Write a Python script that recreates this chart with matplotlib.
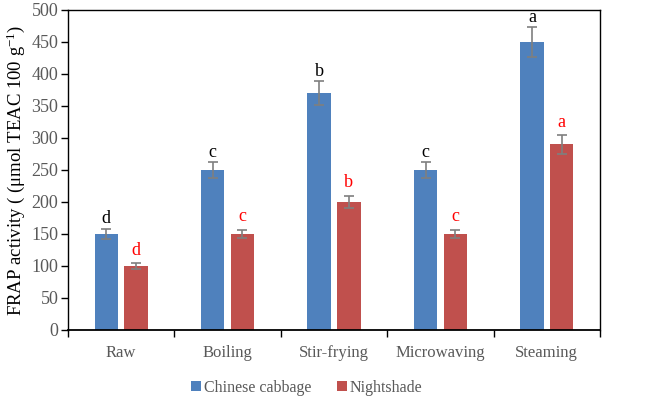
import matplotlib
matplotlib.use("Agg")
import matplotlib.pyplot as plt
import numpy as np

categories = ["Raw", "Boiling", "Stir-frying", "Microwaving", "Steaming"]
cabbage = [150, 250, 370, 250, 450]
cabbage_err = [8, 12, 19, 12, 23]
cabbage_letters = ["d", "c", "b", "c", "a"]
nightshade = [100, 150, 200, 150, 290]
nightshade_err = [5, 7, 10, 7, 15]
nightshade_letters = ["d", "c", "b", "c", "a"]
yticks = [0, 50, 100, 150, 200, 250, 300, 350, 400, 450, 500]

plt.rcParams['font.family'] = ['Liberation Serif', 'DejaVu Serif']
plt.rcParams['mathtext.fontset'] = 'custom'
plt.rcParams['mathtext.rm'] = 'Liberation Serif'
plt.rcParams['mathtext.it'] = 'Liberation Serif:italic'

fig = plt.figure(figsize=(6.69, 4.01), dpi=100)
ax = fig.add_axes([68/669, 1-330/401, (600-68)/669, (330-10)/401])

blue = "#4f81bd"
red = "#c0504d"
gray = "#595959"
x = np.arange(len(categories))
w = 0.22
off = 0.14
eb = dict(ecolor="#7f7f7f", elinewidth=1.2, capsize=3.5, capthick=1.2)
ax.bar(x - off, cabbage, w, color=blue, yerr=cabbage_err, error_kw=eb, label="Chinese cabbage", zorder=2)
ax.bar(x + off, nightshade, w, color=red, yerr=nightshade_err, error_kw=eb, label="Nightshade", zorder=2)

for i in range(len(categories)):
    ax.annotate(cabbage_letters[i], (x[i] - off, cabbage[i] + cabbage_err[i]), xytext=(0, 1),
                textcoords="offset points", ha="center", va="bottom", fontsize=13, color="black")
    ax.annotate(nightshade_letters[i], (x[i] + off, nightshade[i] + nightshade_err[i]), xytext=(0, 3),
                textcoords="offset points", ha="center", va="bottom", fontsize=13, color="red")

ax.set_xlim(-0.5, len(categories) - 0.5)
ax.set_ylim(0, 500)
ax.set_yticks(yticks)
ax.set_xticks(x)
ax.set_xticklabels(categories)
ax.set_xticks(np.arange(len(categories) + 1) - 0.5, minor=True)
ax.tick_params(axis='x', which='major', length=0, pad=11, labelsize=12, labelcolor=gray)
ax.tick_params(axis='x', which='minor', length=5, width=1, direction='out', color='black')
ax.tick_params(axis='y', length=5, width=1, direction='out', labelsize=13, labelcolor=gray, pad=2)
for s in ax.spines.values():
    s.set_color("black")
    s.set_linewidth(1.0)
ax.spines['bottom'].set_linewidth(1.3)

ax.set_ylabel(r"FRAP activity ( (μmol TEAC 100 g$^{-1}$)", fontsize=13.5, color="black", labelpad=3)

leg = fig.legend(loc="center", bbox_to_anchor=(307/669, 1 - 388/401), ncol=2, frameon=False,
                 fontsize=11.5, handlelength=0.6, handleheight=0.6, handletextpad=0.2, columnspacing=1.6,
                 borderpad=0)
for t in leg.get_texts():
    t.set_color(gray)

fig.savefig("out.png", dpi=100)
